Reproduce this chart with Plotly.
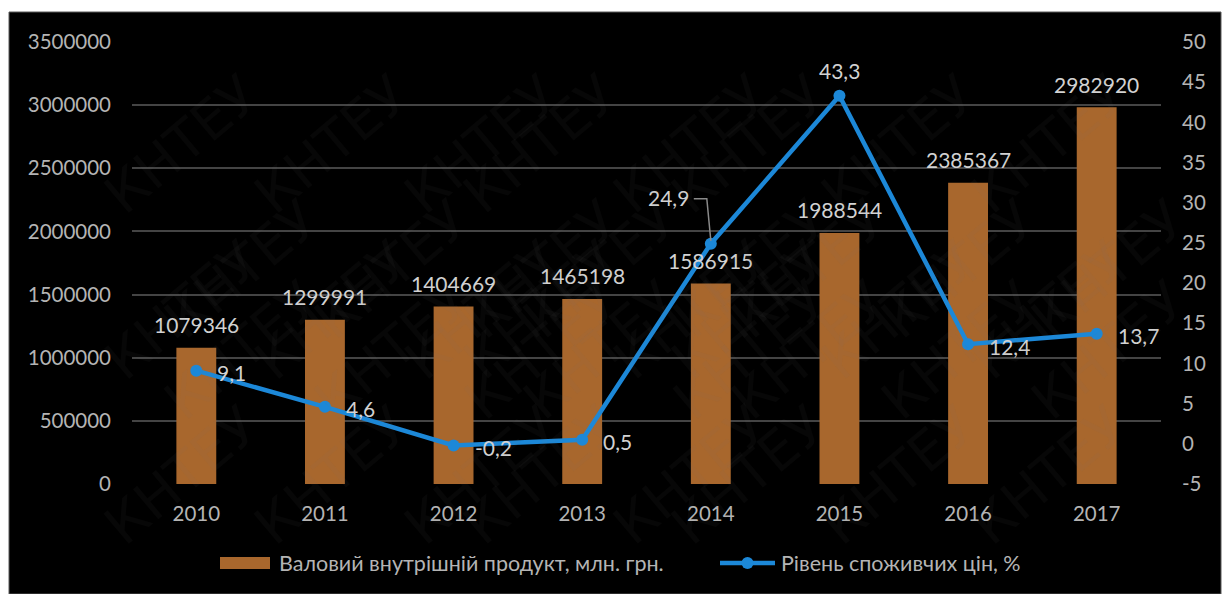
import plotly.graph_objects as go

# Data
years = ["2010", "2011", "2012", "2013", "2014", "2015", "2016", "2017"]
gdp = [1079346, 1299991, 1404669, 1465198, 1586915, 1988544, 2385367, 2982920]
cpi = [9.1, 4.6, -0.2, 0.5, 24.9, 43.3, 12.4, 13.7]
gdp_name = "Валовий внутрішній продукт, млн. грн."
cpi_name = "Рівень споживчих цін, %"
left_ticks = [0, 500000, 1000000, 1500000, 2000000, 2500000, 3000000, 3500000]
right_ticks = [-5, 0, 5, 10, 15, 20, 25, 30, 35, 40, 45, 50]

W, H = 1226, 594
ML, MR, MT, MB = 132, 65, 42, 110
PW, PH = W - ML - MR, H - MT - MB

BAR = "#A8672D"
LINE = "#1C88D8"
TICK = "#B4B4B4"
LABEL = "#D2D2D2"
GRID = "#444444"
FONT = "Lato"
TS = 20.5   # tick label size
LS = 21     # data label size
GS = 21.5   # legend text size


def px(x):
    return (x - ML) / PW


def py(y):
    return (H - MB - y) / PH


fig = go.Figure()
fig.add_trace(go.Bar(
    x=years, y=gdp, name=gdp_name, marker=dict(color=BAR, line=dict(width=0)),
    width=0.31, yaxis="y", showlegend=False,
))
fig.add_trace(go.Scatter(
    x=years, y=cpi, name=cpi_name, mode="lines+markers", yaxis="y2",
    line=dict(color=LINE, width=4.5), marker=dict(size=12, color=LINE),
    showlegend=False,
))

ann = []
# bar value labels (x given as category index)
for i, v in enumerate(gdp):
    ann.append(dict(x=i, y=v, xref="x", yref="y", text=str(v), showarrow=False,
                    yshift=23, font=dict(size=LS, color=LABEL, family=FONT)))


def fmt(v):
    return f"{v:.1f}".replace(".", ",")


# line value labels
for i, (yr, v) in enumerate(zip(years, cpi)):
    if yr == "2015":
        ann.append(dict(x=i, y=v, xref="x", yref="y2", text=fmt(v), showarrow=False,
                        yshift=25, font=dict(size=LS, color=LABEL, family=FONT)))
    elif yr == "2014":
        ann.append(dict(x=i, y=v, xref="x", yref="y2", text=fmt(v), showarrow=False,
                        xanchor="right", xshift=-20, yshift=46,
                        font=dict(size=LS, color=LABEL, family=FONT)))
    else:
        ann.append(dict(x=i, y=v, xref="x", yref="y2", text=fmt(v), showarrow=False,
                        xanchor="left", xshift=19, yshift=-2,
                        font=dict(size=LS, color=LABEL, family=FONT)))

shapes = [
    # dark chart panel
    dict(type="rect", xref="paper", yref="paper", x0=px(9), x1=px(1221), y0=py(594), y1=py(12),
         fillcolor="#000000", line=dict(color="#5a5a5a", width=1), layer="below"),
    # leader line for the 2014 price label
    dict(type="path", xref="x", yref="y2", xsizemode="pixel", ysizemode="pixel",
         xanchor=years.index("2014"), yanchor=cpi[years.index("2014")],
         path="M -17,45 L -4,45 L 0,3",
         line=dict(color="#8a8a8a", width=1.5)),
]

# legend
ly = py(563)
shapes.append(dict(type="rect", xref="paper", yref="paper", x0=px(220), x1=px(270),
                   y0=py(569), y1=py(557), fillcolor=BAR, line=dict(width=0)))
shapes.append(dict(type="line", xref="paper", yref="paper", x0=px(720), x1=px(775),
                   y0=ly, y1=ly, line=dict(color=LINE, width=4.5)))
shapes.append(dict(type="circle", xref="paper", yref="paper", x0=px(741.5), x1=px(753.5),
                   y0=py(569), y1=py(557), fillcolor=LINE, line=dict(width=0)))
ann.append(dict(xref="paper", yref="paper", x=px(277), y=ly, text=gdp_name, showarrow=False,
                xanchor="left", yanchor="middle", font=dict(size=GS, color=TICK, family=FONT)))
ann.append(dict(xref="paper", yref="paper", x=px(779), y=ly, text=cpi_name, showarrow=False,
                xanchor="left", yanchor="middle", font=dict(size=GS, color=TICK, family=FONT)))

# faint background watermark
for row in range(0, 5):
    for col in range(0, 8):
        cx = 90 + col * 150 + (row % 2) * 60
        cy = 60 + row * 125
        ann.append(dict(xref="paper", yref="paper", x=px(cx), y=py(cy), text="КНТЕУ",
                        showarrow=False, textangle=-40,
                        font=dict(size=54, color="rgba(120,120,120,0.06)", family="DejaVu Sans")))

fig.update_layout(
    width=W, height=H,
    margin=dict(l=ML, r=MR, t=MT, b=MB),
    paper_bgcolor="#ffffff", plot_bgcolor="rgba(0,0,0,0)",
    font=dict(family=FONT, size=TS, color=TICK),
    bargap=0.69,
    xaxis=dict(type="category", categoryarray=years, range=[-0.5, len(years) - 0.5],
               showgrid=False, zeroline=False, showline=False,
               tickfont=dict(size=TS, color=TICK), ticks="", ticklabelstandoff=15),
    yaxis=dict(range=[0, 3500000], tickvals=left_ticks, ticktext=[str(t) for t in left_ticks],
               showgrid=True, gridcolor=GRID, gridwidth=1.5, zeroline=False, showline=False,
               tickfont=dict(size=TS, color=TICK), ticklabelstandoff=20),
    yaxis2=dict(range=[-5, 50], tickvals=right_ticks, ticktext=[str(t) for t in right_ticks],
                overlaying="y", side="right",
                showgrid=False, zeroline=False, showline=False,
                tickfont=dict(size=TS, color=TICK), ticklabelstandoff=20),
    annotations=ann, shapes=shapes, showlegend=False,
)

fig.write_html("out.html")
